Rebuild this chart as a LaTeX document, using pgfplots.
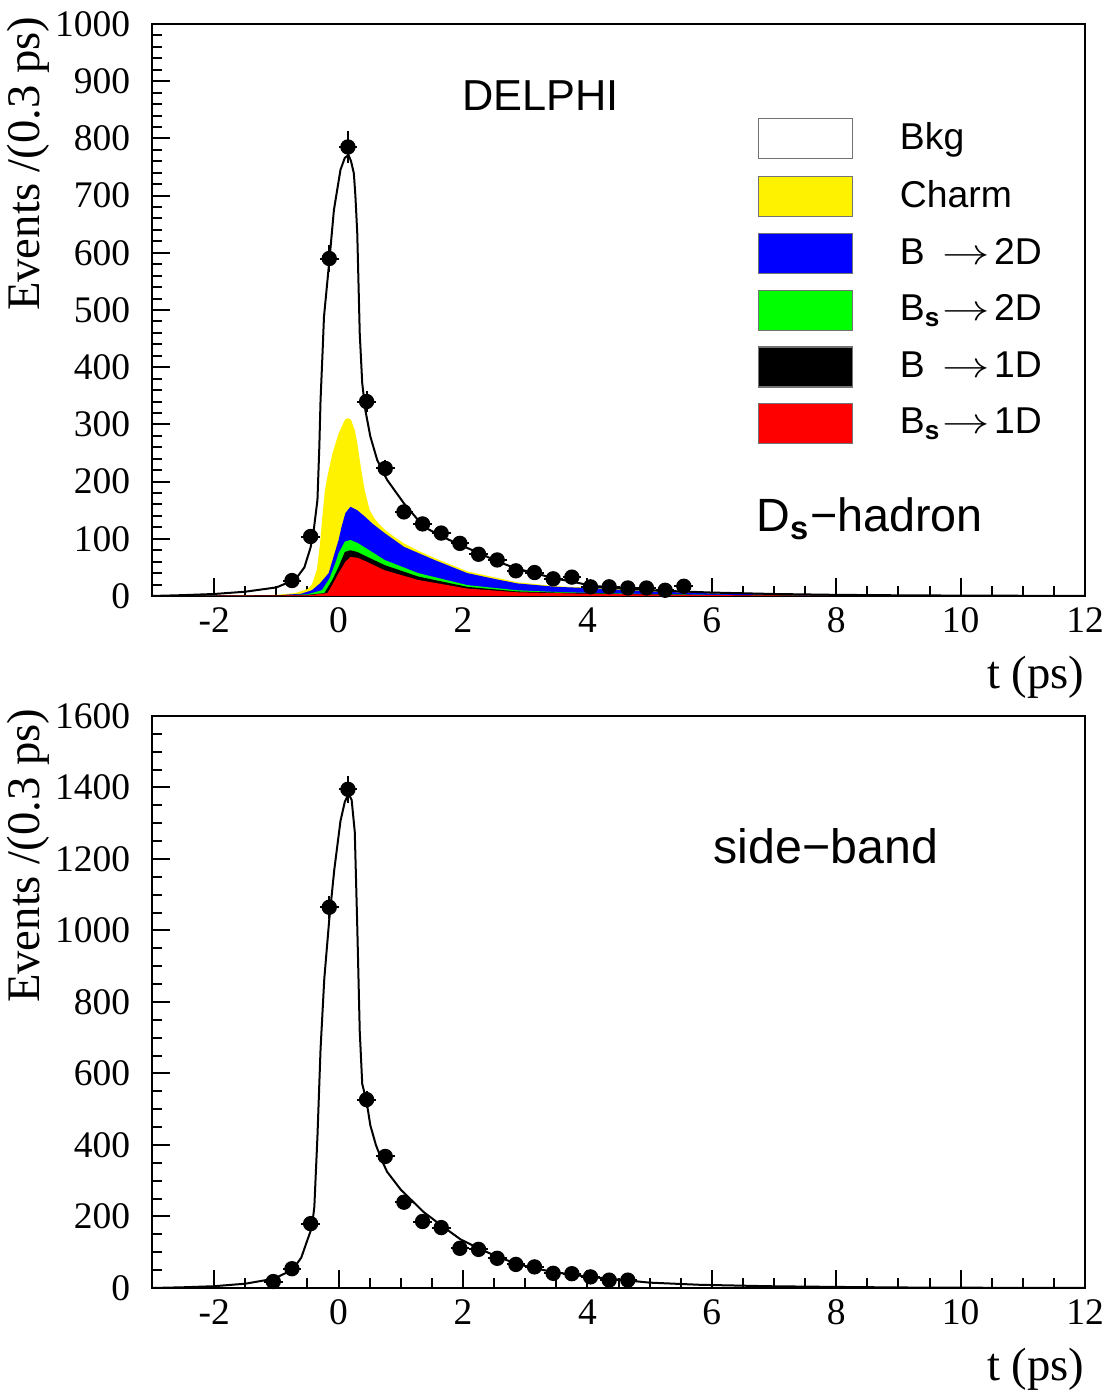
\documentclass[border=0pt]{standalone}
\usepackage{pgfplots}
\usepackage{pgfplotstable}
\pgfplotsset{compat=1.18}
\usepackage{fontspec}
\setmainfont{Liberation Serif}
\newfontfamily\paw{Liberation Sans}
\newcommand{\arr}{\scalebox{1.3}[1.0]{$\rightarrow$}}

\pgfplotstableread{
t v ex ey
-0.75 27 0.15 5.2
-0.45 104 0.15 10.2
-0.15 590 0.15 24.3
0.15 785 0.15 28.0
0.45 340 0.15 18.4
0.75 223 0.15 14.9
1.05 147 0.15 12.1
1.35 126 0.15 11.2
1.65 110 0.15 10.5
1.95 92 0.15 9.6
2.25 73 0.15 8.5
2.55 63 0.15 7.9
2.85 44 0.15 6.6
3.15 41 0.15 6.4
3.45 30 0.15 5.5
3.75 33 0.15 5.7
4.05 16 0.15 4.0
4.35 16 0.15 4.0
4.65 14 0.15 3.7
4.95 14 0.15 3.7
5.25 10 0.15 3.2
5.55 17 0.15 4.1
}\topdata

\pgfplotstableread{
t v ex ey
-1.05 18 0.15 4.2
-0.75 54 0.15 7.3
-0.45 180 0.15 13.4
-0.15 1065 0.15 32.6
0.15 1395 0.15 37.3
0.45 527 0.15 23.0
0.75 368 0.15 19.2
1.05 240 0.15 15.5
1.35 186 0.15 13.6
1.65 169 0.15 13.0
1.95 111 0.15 10.5
2.25 108 0.15 10.4
2.55 83 0.15 9.1
2.85 66 0.15 8.1
3.15 59 0.15 7.7
3.45 41 0.15 6.4
3.75 40 0.15 6.3
4.05 31 0.15 5.6
4.35 22 0.15 4.7
4.65 22 0.15 4.7
}\botdata

\pgfplotsset{
  delphi/.style={
    width=279.9pt, height=171.6pt, scale only axis,
    xmin=-3, xmax=12,
    xtick={-2,0,2,4,6,8,10,12},
    xticklabels={-2,0,2,4,6,8,10,12},
    minor x tick num=3,
    tick align=inside, xtick pos=bottom, ytick pos=left,
    major tick length=5.4pt, minor tick length=3pt,
    axis line style={line width=0.8pt},
    every tick/.style={black, line width=0.6pt},
    tick label style={font=\fontsize{11.25}{12}\selectfont},
    /pgf/number format/assume math mode=true,
    /pgf/number format/1000 sep={},
    yticklabel style={xshift=-3pt},
    xlabel={t (ps)},
    xlabel style={at={(axis description cs:1,0)}, anchor=north east, yshift=-17.7pt, inner sep=0pt, font=\fontsize{14}{14}\selectfont},
    ylabel={Events /(0.3 ps)},
    ylabel style={at={(axis description cs:-0.109,1.014)}, anchor=south east, inner sep=0pt, font=\fontsize{14}{14}\selectfont},
    clip=true,
  }
}

\begin{document}
\begin{tikzpicture}
% ---------------- top panel ----------------
\begin{axis}[delphi, at={(0,207.6pt)}, anchor=south west,
  ymin=0, ymax=1000, ytick={0,100,...,1000}, minor y tick num=4,
  legend style={at={(0.6495,0.839)}, anchor=north west, draw=none, fill=none,
    inner sep=0pt, outer sep=0pt, row sep=3.7pt,
    font=\paw\fontsize{11.2}{11.2}\selectfont,
    /tikz/every odd column/.append style={column sep=12pt}},
  legend cell align=left,
  legend image code/.code={\draw[#1, draw=black!55, line width=0.4pt] (0pt,-6pt) rectangle (28.2pt,6pt);},
]
% charm (cumulative top)
\addplot[fill=yellow, draw=none, forget plot] coordinates {
(-3,0) (-2,0.5) (-1.5,1) (-1,2) (-0.7,5) (-0.5,12) (-0.43,20) (-0.35,45) (-0.3,90) (-0.26,140) (-0.22,185) (-0.18,209) (-0.1,249) (0,284) (0.1,308) (0.15,311) (0.2,308) (0.26,290) (0.3,268) (0.34,238) (0.38,210) (0.42,185) (0.5,150) (0.58,135) (0.64,127) (0.75,115) (0.9,103) (1.05,92) (1.3,78) (1.55,66) (2.07,43) (2.87,24) (3.5,17) (4.2,14) (5,9) (6,5) (7,2.5) (8,1.3) (10,0.5) (12,0.2)
} \closedcycle;
% B -> 2D
\addplot[fill=blue, draw=none, forget plot] coordinates {
(-3,0) (-1,1) (-0.6,4) (-0.43,10) (-0.3,22) (-0.16,40) (-0.05,80) (0,98) (0.05,122) (0.11,145) (0.19,156) (0.3,150) (0.42,139) (0.55,126) (0.74,110) (1.05,86) (1.54,63) (2.07,40) (2.5,30) (2.87,22) (3.5,16) (4.2,13) (5,8) (6,4.5) (7,2.3) (8,1.2) (10,0.4) (12,0.1)
} \closedcycle;
% Bs -> 2D
\addplot[fill=green, draw=none, forget plot] coordinates {
(-3,0) (-1,0.5) (-0.5,3) (-0.27,10) (-0.15,30) (-0.05,58) (0,75) (0.1,95) (0.19,98) (0.3,93) (0.45,83) (0.74,63) (1.28,40) (2.07,19) (2.87,10) (3.5,7) (4.2,5) (5,3.5) (6,2) (7,1) (8,0.6) (10,0.2) (12,0)
} \closedcycle;
% B -> 1D
\addplot[fill=black, draw=none, forget plot] coordinates {
(-3,0) (-0.5,2) (-0.23,5) (-0.1,28) (0,51) (0.1,77) (0.19,80) (0.3,77) (0.45,69) (0.74,54) (1.28,34) (2.07,16) (2.87,8) (3.5,6) (4.2,4.5) (5,3) (6,1.8) (7,1) (8,0.5) (10,0.2) (12,0)
} \closedcycle;
% Bs -> 1D
\addplot[fill=red, draw=none, forget plot] coordinates {
(-3,0) (-0.5,1) (-0.18,5) (-0.1,20) (0,40) (0.11,60) (0.19,68) (0.3,67) (0.45,60) (0.74,45) (1.28,28) (2.07,13) (2.87,6.5) (3.5,5) (4.2,3.5) (5,2.5) (6,1.5) (7,0.9) (8,0.5) (10,0.2) (12,0)
} \closedcycle;
% total fit
\addplot[black, line width=0.6pt, forget plot] coordinates {
(-3,0) (-2.5,1.5) (-2,3.5) (-1.5,7.5) (-1,15) (-0.8,24) (-0.66,34) (-0.55,50) (-0.45,85) (-0.4,115) (-0.34,168) (-0.31,260) (-0.29,343) (-0.26,420) (-0.235,488) (-0.15,585) (-0.075,675) (0.03,745) (0.1,766) (0.16,771) (0.2,760) (0.245,739) (0.27,700) (0.3,634) (0.34,459) (0.38,372) (0.43,325) (0.51,279) (0.62,238) (0.78,203) (1.05,162) (1.37,121) (1.66,104) (1.96,89) (2.26,75) (2.56,60) (2.86,48) (3.15,40) (3.46,31) (3.76,25) (4.06,18) (4.5,14) (5,10) (5.5,8) (6,6) (7,3.5) (8,2) (9,1.2) (10,0.7) (11,0.4) (12,0.2)
};
% data
\addplot[only marks, mark=*, mark size=2.1pt, black, forget plot,
  error bars/.cd, x dir=both, x explicit, y dir=both, y explicit,
  error bar style={line width=0.6pt, black}, error mark=none]
  table[x=t, y=v, x error=ex, y error=ey] {\topdata};

\addlegendimage{fill=white}
\addlegendentry{Bkg}
\addlegendimage{fill=yellow}
\addlegendentry{Charm}
\addlegendimage{fill=blue}
\addlegendentry{\makebox[1.15em][l]{B}\arr\hspace{0.1em}2D}
\addlegendimage{fill=green}
\addlegendentry{\makebox[1.15em][l]{B\textsubscript{\textbf{s}}}\arr\hspace{0.1em}2D}
\addlegendimage{fill=black}
\addlegendentry{\makebox[1.15em][l]{B}\arr\hspace{0.1em}1D}
\addlegendimage{fill=red}
\addlegendentry{\makebox[1.15em][l]{B\textsubscript{\textbf{s}}}\arr\hspace{0.1em}1D}

\node[font=\paw\fontsize{13}{13}\selectfont] at (axis cs:3.245,874) {DELPHI};
\node[anchor=west, font=\paw\fontsize{14}{14}\selectfont] at (axis cs:6.53,135) {D\textsubscript{\textbf{s}}−hadron};
\end{axis}

% ---------------- bottom panel ----------------
\begin{axis}[delphi, at={(0,0)}, anchor=south west,
  ymin=0, ymax=1600, ytick={0,200,...,1600}, minor y tick num=3]
\addplot[black, line width=0.6pt] coordinates {
(-3,0) (-2.5,2) (-2,5) (-1.5,12) (-1.04,26) (-0.74,51) (-0.6,85) (-0.5,135) (-0.43,169) (-0.39,227) (-0.34,424) (-0.29,669) (-0.23,865) (-0.15,1031) (-0.07,1169) (0.03,1306) (0.1,1360) (0.16,1382) (0.21,1365) (0.26,1276) (0.3,1012) (0.34,718) (0.38,571) (0.45,522) (0.51,455) (0.6,400) (0.7,355) (0.78,325) (1.0,275) (1.37,212) (1.66,174) (1.96,136) (2.26,110) (2.56,87) (2.86,68) (3.15,55) (3.45,45) (3.75,37) (4.05,31) (4.65,21) (5,15) (5.8,9) (6.9,5) (8,3) (9,1.5) (10,0.8) (12,0.2)
};
\addplot[only marks, mark=*, mark size=2.1pt, black,
  error bars/.cd, x dir=both, x explicit, y dir=both, y explicit,
  error bar style={line width=0.6pt, black}, error mark=none]
  table[x=t, y=v, x error=ex, y error=ey] {\botdata};
\node[anchor=west, font=\paw\fontsize{14.5}{14.5}\selectfont] at (axis cs:5.84,1236) {side−band};
\end{axis}
\pgfresetboundingbox
\path (-45.6pt,-31.5pt) rectangle (287.1pt,386.4pt);
\end{tikzpicture}
\end{document}
